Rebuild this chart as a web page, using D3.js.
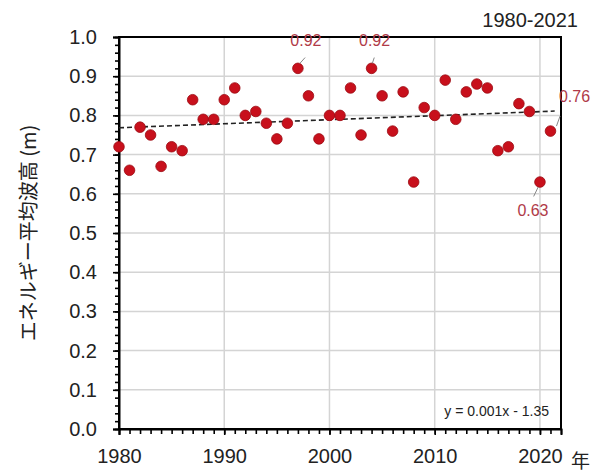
<!DOCTYPE html>
<html>
<head>
<meta charset="utf-8">
<script src="https://cdn.jsdelivr.net/npm/d3@7.9.0/dist/d3.min.js"></script>
<style>
  body { margin: 0; background: #fff; }
  svg text { font-family: "Liberation Sans", Arial, sans-serif; }
</style>
</head>
<body>
<svg id="chart" width="597" height="472"></svg>
<script>
// yearly energy-mean wave height (m)
const years = d3.range(1980, 2022);
const heights = [
  0.72, 0.66, 0.77, 0.75, 0.67, 0.72, 0.71, 0.84, 0.79, 0.79,
  0.84, 0.87, 0.80, 0.81, 0.78, 0.74, 0.78, 0.92, 0.85, 0.74,
  0.80, 0.80, 0.87, 0.75, 0.92, 0.85, 0.76, 0.86, 0.63, 0.82,
  0.80, 0.89, 0.79, 0.86, 0.88, 0.87, 0.71, 0.72, 0.83, 0.81,
  0.63, 0.76
];
const yTicks = d3.range(0, 1.01, 0.1);
const xTicks = [1980, 1990, 2000, 2010, 2020];
// labelled points: year, text, label offset from the point
const notes = [
  { year: 1997, text: "0.92", dx: 8, dy: -18 },
  { year: 2004, text: "0.92", dx: 3, dy: -18 },
  { year: 2021, text: "0.76", dx: 24, dy: -25 },
  { year: 2020, text: "0.63", dx: -7, dy: 24 }
];
const trendText = "y = 0.001x - 1.35";

const svg = d3.select("#chart");
const margin = { top: 37, right: 36, bottom: 43, left: 119 };
const W = 597, H = 472;

const x = d3.scaleLinear().domain([1980, 2022]).range([margin.left, W - margin.right]);
const y = d3.scaleLinear().domain([0, 1]).range([H - margin.bottom, margin.top]);

// grid
svg.append("g").selectAll("line").data(yTicks.slice(1, -1)).join("line")
  .attr("x1", margin.left).attr("x2", W - margin.right)
  .attr("y1", d => y(d)).attr("y2", d => y(d))
  .attr("stroke", "#d4d4d4").attr("stroke-width", 1.5);
svg.append("g").selectAll("line").data(xTicks.slice(1)).join("line")
  .attr("x1", d => x(d)).attr("x2", d => x(d))
  .attr("y1", margin.top).attr("y2", H - margin.bottom)
  .attr("stroke", "#d4d4d4").attr("stroke-width", 1.5);

// axes
const yAxis = svg.append("g").attr("transform", `translate(${margin.left},0)`)
  .call(d3.axisLeft(y).tickValues(yTicks).tickFormat(d3.format(".1f")).tickSize(6));
svg.append("g").attr("transform", `translate(${margin.left},0)`)
  .call(d3.axisLeft(y).ticks(50).tickFormat("").tickSize(4))
  .call(g => g.select(".domain").remove());
const xAxis = svg.append("g").attr("transform", `translate(0,${H - margin.bottom})`)
  .call(d3.axisBottom(x).tickValues(xTicks).tickFormat(d3.format("d")).tickSize(6).tickPadding(14));
svg.append("g").attr("transform", `translate(0,${H - margin.bottom})`)
  .call(d3.axisBottom(x).tickValues(d3.range(1980, 2023)).tickFormat("").tickSize(5))
  .call(g => g.select(".domain").remove());

svg.selectAll(".tick line").attr("stroke", "#000").attr("stroke-width", 1.6);
svg.selectAll(".domain").attr("stroke", "#000").attr("stroke-width", 2);
yAxis.selectAll(".tick text").attr("font-size", 20).attr("fill", "#222").attr("text-anchor", "end")
  .attr("x", -22);
xAxis.selectAll(".tick text").attr("font-size", 20).attr("fill", "#222");

// frame
svg.append("rect")
  .attr("x", margin.left).attr("y", margin.top)
  .attr("width", W - margin.left - margin.right).attr("height", H - margin.top - margin.bottom)
  .attr("fill", "none").attr("stroke", "#000").attr("stroke-width", 2);

// linear trend
const lr = d3.zip(years, heights);
const mx = d3.mean(years), my = d3.mean(heights);
const slope = d3.sum(lr, ([a, b]) => (a - mx) * (b - my)) / d3.sum(years, a => (a - mx) ** 2);
const icpt = my - slope * mx;
svg.append("line")
  .attr("x1", x(1980)).attr("y1", y(icpt + slope * 1980))
  .attr("x2", x(2021.4)).attr("y2", y(icpt + slope * 2021.4))
  .attr("stroke", "#222").attr("stroke-width", 1.6).attr("stroke-dasharray", "5,3");

// points
svg.append("g").selectAll("circle").data(lr).join("circle")
  .attr("cx", d => x(d[0])).attr("cy", d => y(d[1])).attr("r", 5.3)
  .attr("fill", "#c8101c").attr("stroke", "#9a0a12").attr("stroke-width", 0.8);

// annotations
notes.forEach(n => {
  const v = heights[years.indexOf(n.year)];
  const px = x(n.year), py = y(v);
  const lx = px + n.dx, ly = py + n.dy;
  const up = n.dy < 0;
  svg.append("line")
    .attr("x1", px + n.dx * 0.25).attr("y1", py + (up ? -5 : 5))
    .attr("x2", px + n.dx * (n.dx > 15 ? 0.4 : 0.9)).attr("y2", py + n.dy * 0.6)
    .attr("stroke", "#888").attr("stroke-width", 1);
  svg.append("text")
    .attr("x", lx).attr("y", ly + (up ? -4 : 10))
    .attr("text-anchor", "middle").attr("font-size", 16)
    .attr("fill", "#b03a48").text(n.text);
});

// title, unit, equation
svg.append("text").attr("x", 578).attr("y", 27).attr("text-anchor", "end")
  .attr("font-size", 20).attr("fill", "#222").text("1980-2021");
svg.append("text").attr("x", 571).attr("y", 468)
  .attr("font-size", 19).attr("fill", "#222")
  .style("font-family", '"Noto Sans CJK JP", sans-serif').text("年");
svg.append("text").attr("x", W - margin.right - 12).attr("y", 416).attr("text-anchor", "end")
  .attr("font-size", 14).attr("fill", "#222").text(trendText);
svg.append("text")
  .attr("transform", `translate(36,${(margin.top + H - margin.bottom) / 2}) rotate(-90)`)
  .attr("text-anchor", "middle").attr("font-size", 20).attr("fill", "#222")
  .style("font-family", '"Noto Sans CJK JP", sans-serif')
  .text("エネルギー平均波高 (m)");
</script>
</body>
</html>
